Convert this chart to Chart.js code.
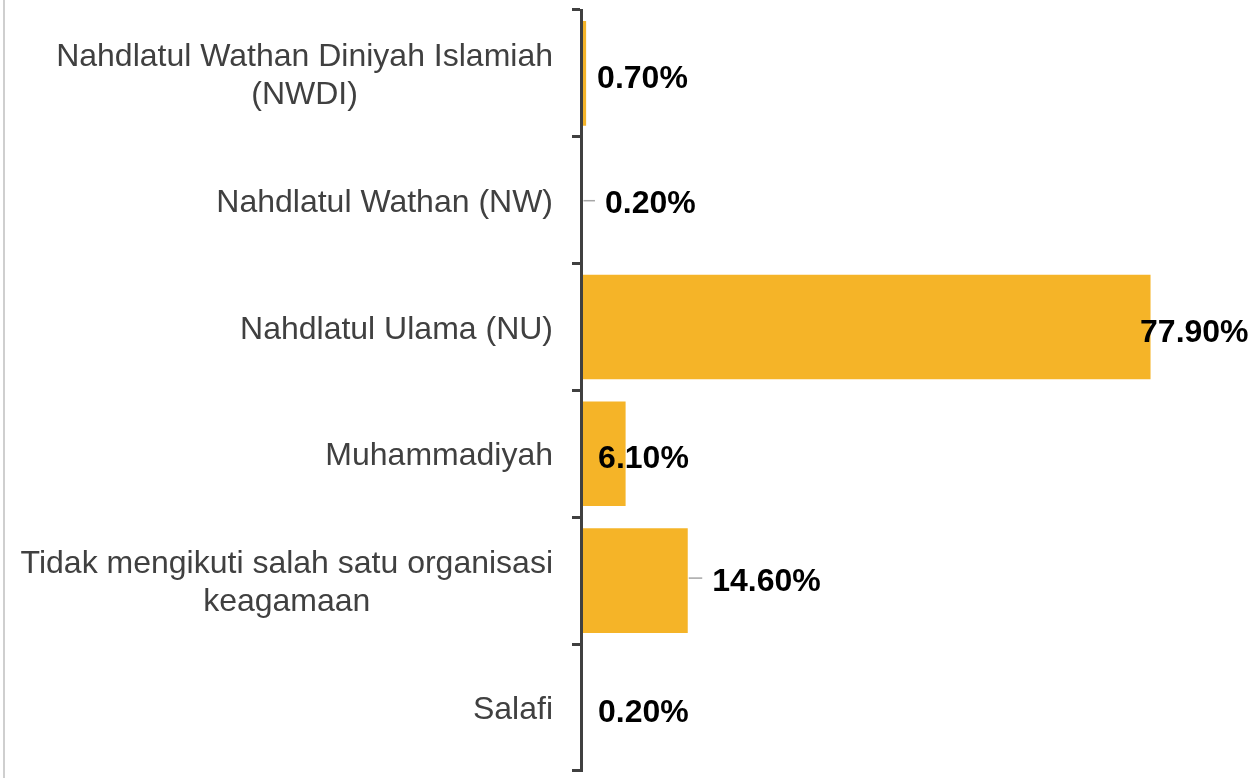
<!DOCTYPE html>
<html>
<head>
<meta charset="utf-8">
<script src="https://cdn.jsdelivr.net/npm/chart.js@4/dist/chart.umd.min.js"></script>
<style>
  html, body { margin: 0; padding: 0; background: #ffffff; }
  #wrap { position: relative; width: 1258px; height: 778px; }
  canvas { display: block; }
</style>
</head>
<body>
<div id="wrap"><canvas id="c" width="1258" height="778"></canvas></div>
<script>
// ---- data ----
const categories = [
  ['Nahdlatul Wathan Diniyah Islamiah', '(NWDI)'],
  ['Nahdlatul Wathan (NW)'],
  ['Nahdlatul Ulama (NU)'],
  ['Muhammadiyah'],
  ['Tidak mengikuti salah satu organisasi', 'keagamaan'],
  ['Salafi']
];
const values = [0.7, 0.2, 77.9, 6.1, 14.6, 0.2];
const valueLabels = ['0.70%', '0.20%', '77.90%', '6.10%', '14.60%', '0.20%'];

// ---- label styling (pixel offsets of value labels relative to bar end) ----
const labelDx = [11, 22.5, -10.5, -27.5, 24.5, 15.5];
const labelDy = [3, 1.5, 3, 3, -1.5, 3];
const hasLeader = [false, true, false, false, true, false];

const FONT = "'Liberation Sans', Arial, Helvetica, sans-serif";

const labelPlugin = {
  id: 'customLabels',
  afterDraw(chart) {
    const ctx = chart.ctx;
    const yScale = chart.scales.y;
    const meta = chart.getDatasetMeta(0);
    ctx.save();
    // left frame line
    ctx.fillStyle = '#cfcfcf';
    ctx.fillRect(3, 0, 2, chart.height);

    // category labels: block right-aligned, lines centered within the block
    ctx.font = '32px ' + FONT;
    ctx.fillStyle = '#404040';
    ctx.textBaseline = 'alphabetic';
    ctx.textAlign = 'center';
    const rightEdge = 553;
    const lineH = 38;
    categories.forEach((lines, i) => {
      const cy = yScale.getPixelForValue(i);
      const widths = lines.map(l => ctx.measureText(l).width);
      const w = Math.max(...widths);
      const cx = rightEdge - w / 2;
      const n = lines.length;
      lines.forEach((l, k) => {
        const capCenter = cy + (k - (n - 1) / 2) * lineH;
        ctx.fillText(l, cx, capCenter + 11.5);
      });
    });

    // value labels
    ctx.font = 'bold 32px ' + FONT;
    ctx.fillStyle = '#000000';
    ctx.textAlign = 'left';
    meta.data.forEach((bar, i) => {
      const xEnd = bar.x;
      const cy = bar.y;
      const tx = xEnd + labelDx[i];
      if (hasLeader[i]) {
        ctx.strokeStyle = '#a6a6a6';
        ctx.lineWidth = 1.5;
        ctx.beginPath();
        ctx.moveTo(xEnd + 1, cy + labelDy[i] - 1);
        ctx.lineTo(tx - 10, cy + labelDy[i] - 1);
        ctx.stroke();
      }
      ctx.fillText(valueLabels[i], tx, cy + labelDy[i] + 11.5);
    });
    ctx.restore();
  }
};

new Chart(document.getElementById('c'), {
  type: 'bar',
  data: {
    labels: categories.map(l => l.join(' ')),
    datasets: [{
      data: values,
      backgroundColor: '#F5B428',
      borderWidth: 0,
      categoryPercentage: 1.0,
      barPercentage: 0.825
    }]
  },
  options: {
    indexAxis: 'y',
    responsive: false,
    animation: false,
    devicePixelRatio: 1,
    layout: { padding: { left: 0, right: 19, top: 10, bottom: 2 } },
    plugins: {
      legend: { display: false },
      tooltip: { enabled: false },
      title: { display: false }
    },
    scales: {
      x: {
        display: false,
        min: 0,
        max: 90
      },
      y: {
        position: 'left',
        offset: true,
        afterFit(scale) { scale.width = 581; },
        grid: {
          offset: true,
          z: 1,
          drawOnChartArea: false,
          drawTicks: true,
          tickLength: 9,
          color: '#404040',
          lineWidth: 3
        },
        border: { display: true, color: '#404040', width: 3, z: 1 },
        ticks: {
          callback: () => '',
          padding: 0
        }
      }
    }
  },
  plugins: [labelPlugin]
});
</script>
</body>
</html>
